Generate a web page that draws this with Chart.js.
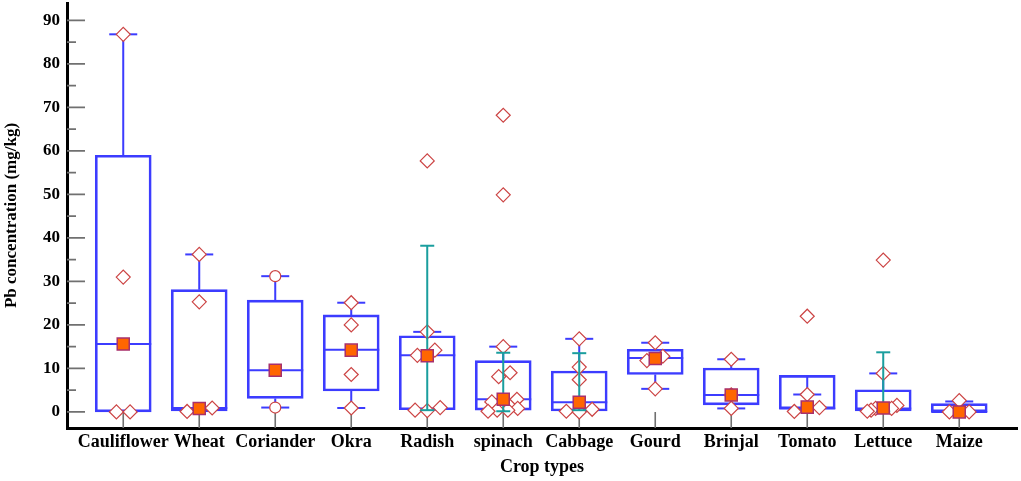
<!DOCTYPE html>
<html>
<head>
<meta charset="utf-8">
<title>Pb concentration by crop</title>
<script src="https://cdn.jsdelivr.net/npm/chart.js"></script>
<style>
  html, body { margin: 0; padding: 0; background: #fff; }
  #wrap { width: 1021px; height: 481px; }
</style>
</head>
<body>
<div id="wrap"><canvas id="pbChart" width="1021" height="481"></canvas></div>
<script>
// crop types on the x axis
const categories = ['Cauliflower', 'Wheat', 'Coriander', 'Okra', 'Radish', 'spinach',
  'Cabbage', 'Gourd', 'Brinjal', 'Tomato', 'Lettuce', 'Maize'];

// box statistics (mg/kg)
const q1 =          [0,    0.2,  3.1,  4.8,  0.5,  0.4,  0.2,  8.6,  1.6, 0.7, 0.2, 0];
const q3 =          [59,   28.1, 25.7, 22.3, 17.5, 11.8, 9.4,  14.4, 10.1, 8.4, 5.1, 1.9];
const medians =     [15.6, 0.9,  9.6,  14.3, 13.0, 2.9,  2.2,  12.4, 3.9, 0.8, 0.8, 0];
const means =       [15.6, 0.8,  9.6,  14.2, 12.9, 2.9,  2.2,  12.3, 3.9, 1.1, 0.9, 0];
const whiskerLow =  [0,    0.2,  1.0,  0.9,  0.5,  0.4,  0.2,  5.3,  0.8, 0.7, 0.2, 0];
const whiskerHigh = [86.8, 36.2, 31.2, 25.1, 18.4, 15.0, 16.8, 15.9, 12.1, 4.0, 8.85, 2.4];

// teal error bars (only some crops have them)
const errLow =  [null, null, null, null, 0.4,  0.15, 0.4,  null, null, null, 0.1,  null];
const errHigh = [null, null, null, null, 38.2, 13.6, 13.5, null, null, null, 13.7, null];

// individual observations per crop, with horizontal jitter (category units)
const observations = [
  [86.8, 31, 0, 0],
  [36.2, 25.3, 0.1, 0.9],
  [31.2, 1.0],
  [25.1, 20.0, 8.6, 0.9],
  [57.7, 18.4, 14.2, 13.0, 1.0, 0.4, 0.3],
  [68.2, 49.9, 15.0, 9.0, 8.1, 2.9, 2.3, 0.8, 0.4, 0.4, 0.15],
  [16.8, 10.3, 7.4, 0.6, 0.15, 0],
  [15.9, 12.8, 11.8, 5.3],
  [12.1, 3.9, 0.8],
  [22.0, 4.0, 1.0, 0.1],
  [34.9, 8.85, 1.5, 0.8, 0.8, 0.4, 0.15],
  [2.6, 0, 0]
];
const jitter = [
  [0, 0, -0.09, 0.09],
  [0, 0, -0.16, 0.17],
  [0, 0],
  [0, 0, 0, 0],
  [0, 0, 0.1, -0.13, 0.17, -0.16, 0],
  [0, 0, 0, 0.09, -0.06, 0.18, -0.15, 0.19, 0.06, -0.08, -0.2],
  [0, 0, 0, 0.17, -0.17, 0],
  [0, 0.1, -0.11, 0],
  [0, 0, 0],
  [0, 0, 0.16, -0.17],
  [0, 0, 0.18, 0.11, -0.1, -0.16, -0.21],
  [0, -0.13, 0.13]
];
// Coriander's two points are drawn as circles in the figure
const markerShape = ['rectRot', 'rectRot', 'circle', 'rectRot', 'rectRot', 'rectRot',
  'rectRot', 'rectRot', 'rectRot', 'rectRot', 'rectRot', 'rectRot'];

const yTicks = [0, 10, 20, 30, 40, 50, 60, 70, 80, 90];

const BLUE = '#3c3cff';
const TEAL = '#1a9e9e';
const FONT = 'Liberation Serif';

// build the datasets
const boxData = categories.map((c, i) => ({ x: i, y: [q1[i], q3[i]] }));

const whiskerData = [];
const capData = [];
categories.forEach((c, i) => {
  whiskerData.push({ x: i, y: q3[i] }, { x: i, y: whiskerHigh[i] }, { x: i, y: null });
  whiskerData.push({ x: i, y: q1[i] }, { x: i, y: whiskerLow[i] }, { x: i, y: null });
  capData.push({ x: i, y: whiskerHigh[i] }, { x: i, y: whiskerLow[i] });
});

const errData = [];
const errCapData = [];
categories.forEach((c, i) => {
  if (errLow[i] === null) return;
  errData.push({ x: i, y: errLow[i] }, { x: i, y: errHigh[i] }, { x: i, y: null });
  errCapData.push({ x: i, y: errLow[i] }, { x: i, y: errHigh[i] });
});

const obsData = [];
observations.forEach((vals, i) => {
  vals.forEach((v, k) => obsData.push({ x: i + jitter[i][k], y: v, s: markerShape[i] }));
});

const innerTicks = {
  id: 'innerTicks',
  beforeDatasetsDraw(chart) {
    const { ctx, chartArea } = chart;
    const x = chart.scales.x, y = chart.scales.y;
    ctx.save();
    ctx.strokeStyle = '#707070';
    ctx.lineWidth = 1.6;
    ctx.beginPath();
    yTicks.forEach((v, k) => {
      const py = y.getPixelForValue(v);
      ctx.moveTo(chartArea.left, py);
      ctx.lineTo(chartArea.left + 18, py);
      if (k < yTicks.length - 1) {
        const pm = y.getPixelForValue((v + yTicks[k + 1]) / 2);
        ctx.moveTo(chartArea.left, pm);
        ctx.lineTo(chartArea.left + 9, pm);
      }
    });
    categories.forEach((c, i) => {
      const px = x.getPixelForValue(i);
      ctx.moveTo(px, chartArea.bottom);
      ctx.lineTo(px, chartArea.bottom - 16);
    });
    ctx.stroke();
    ctx.restore();
  }
};

const ctx = document.getElementById('pbChart').getContext('2d');

const pbChart = new Chart(ctx, {
  type: 'scatter',
  data: {
    datasets: [
      {
        type: 'bar',
        label: 'box',
        data: boxData,
        backgroundColor: 'rgba(255,255,255,0)',
        borderColor: BLUE,
        borderWidth: 2,
        borderSkipped: false,
        barThickness: 56,
        order: 10
      },
      {
        label: 'whiskers',
        data: whiskerData,
        showLine: true,
        spanGaps: false,
        borderColor: BLUE,
        borderWidth: 2,
        pointRadius: 0,
        order: 9
      },
      {
        label: 'caps',
        data: capData,
        pointStyle: 'line',
        pointRadius: 14,
        borderColor: BLUE,
        borderWidth: 2,
        order: 8
      },
      {
        label: 'median',
        data: categories.map((c, i) => ({ x: i, y: medians[i] })),
        pointStyle: 'line',
        pointRadius: 28,
        borderColor: BLUE,
        borderWidth: 2,
        order: 7
      },
      {
        label: 'observations',
        data: obsData,
        pointStyle: (c) => c.raw ? c.raw.s : 'rectRot',
        pointRadius: (c) => c.raw && c.raw.s === 'circle' ? 5.5 : 7,
        backgroundColor: '#ffffff',
        borderColor: '#cc4444',
        borderWidth: 1.2,
        order: 5
      },
      {
        label: 'error bars',
        data: errData,
        showLine: true,
        spanGaps: false,
        borderColor: TEAL,
        borderWidth: 2,
        pointRadius: 0,
        order: 4
      },
      {
        label: 'error caps',
        data: errCapData,
        pointStyle: 'line',
        pointRadius: 7,
        borderColor: TEAL,
        borderWidth: 2,
        order: 3
      },
      {
        label: 'mean',
        data: categories.map((c, i) => ({ x: i, y: means[i] })),
        pointStyle: 'rect',
        pointRadius: 8.5,
        backgroundColor: '#ff6600',
        borderColor: '#a8306c',
        borderWidth: 1.5,
        order: 1
      }
    ]
  },
  options: {
    responsive: false,
    animation: false,
    events: [],
    layout: { autoPadding: false, padding: { top: 3, right: 4, left: 0, bottom: 0 } },
    plugins: {
      legend: { display: false },
      tooltip: { enabled: false }
    },
    scales: {
      x: {
        type: 'linear',
        min: -0.74,
        max: 11.76,
        offset: false,
        grid: { display: false, drawTicks: false, offset: false },
        border: { display: true, color: '#000', width: 3 },
        afterBuildTicks: (scale) => { scale.ticks = categories.map((c, i) => ({ value: i })); },
        afterFit: (scale) => {
          scale.height = 53;
          scale.paddingLeft = 0;
          scale.paddingRight = 0;
        },
        ticks: {
          autoSkip: false,
          maxRotation: 0,
          padding: 4,
          color: '#000',
          font: { family: FONT, size: 18, weight: 'bold' },
          callback: (v) => categories[v]
        },
        title: {
          display: true,
          text: 'Crop types',
          color: '#000',
          font: { family: FONT, size: 18, weight: 'bold' },
          padding: { top: 0, bottom: 3 }
        }
      },
      y: {
        min: -3.7,
        max: 94,
        grid: { display: false, drawTicks: false },
        border: { display: true, color: '#000', width: 3 },
        afterBuildTicks: (scale) => { scale.ticks = yTicks.map(v => ({ value: v })); },
        afterFit: (scale) => {
          scale.width = 67;
          scale.paddingTop = 0;
          scale.paddingBottom = 0;
        },
        ticks: {
          padding: 7,
          color: '#000',
          font: { family: FONT, size: 17, weight: 'bold' }
        },
        title: {
          display: true,
          text: 'Pb concentration (mg/kg)',
          color: '#000',
          font: { family: FONT, size: 17, weight: 'bold' },
          padding: { top: 1, bottom: 0 }
        }
      }
    }
  },
  plugins: [innerTicks]
});
</script>
</body>
</html>
